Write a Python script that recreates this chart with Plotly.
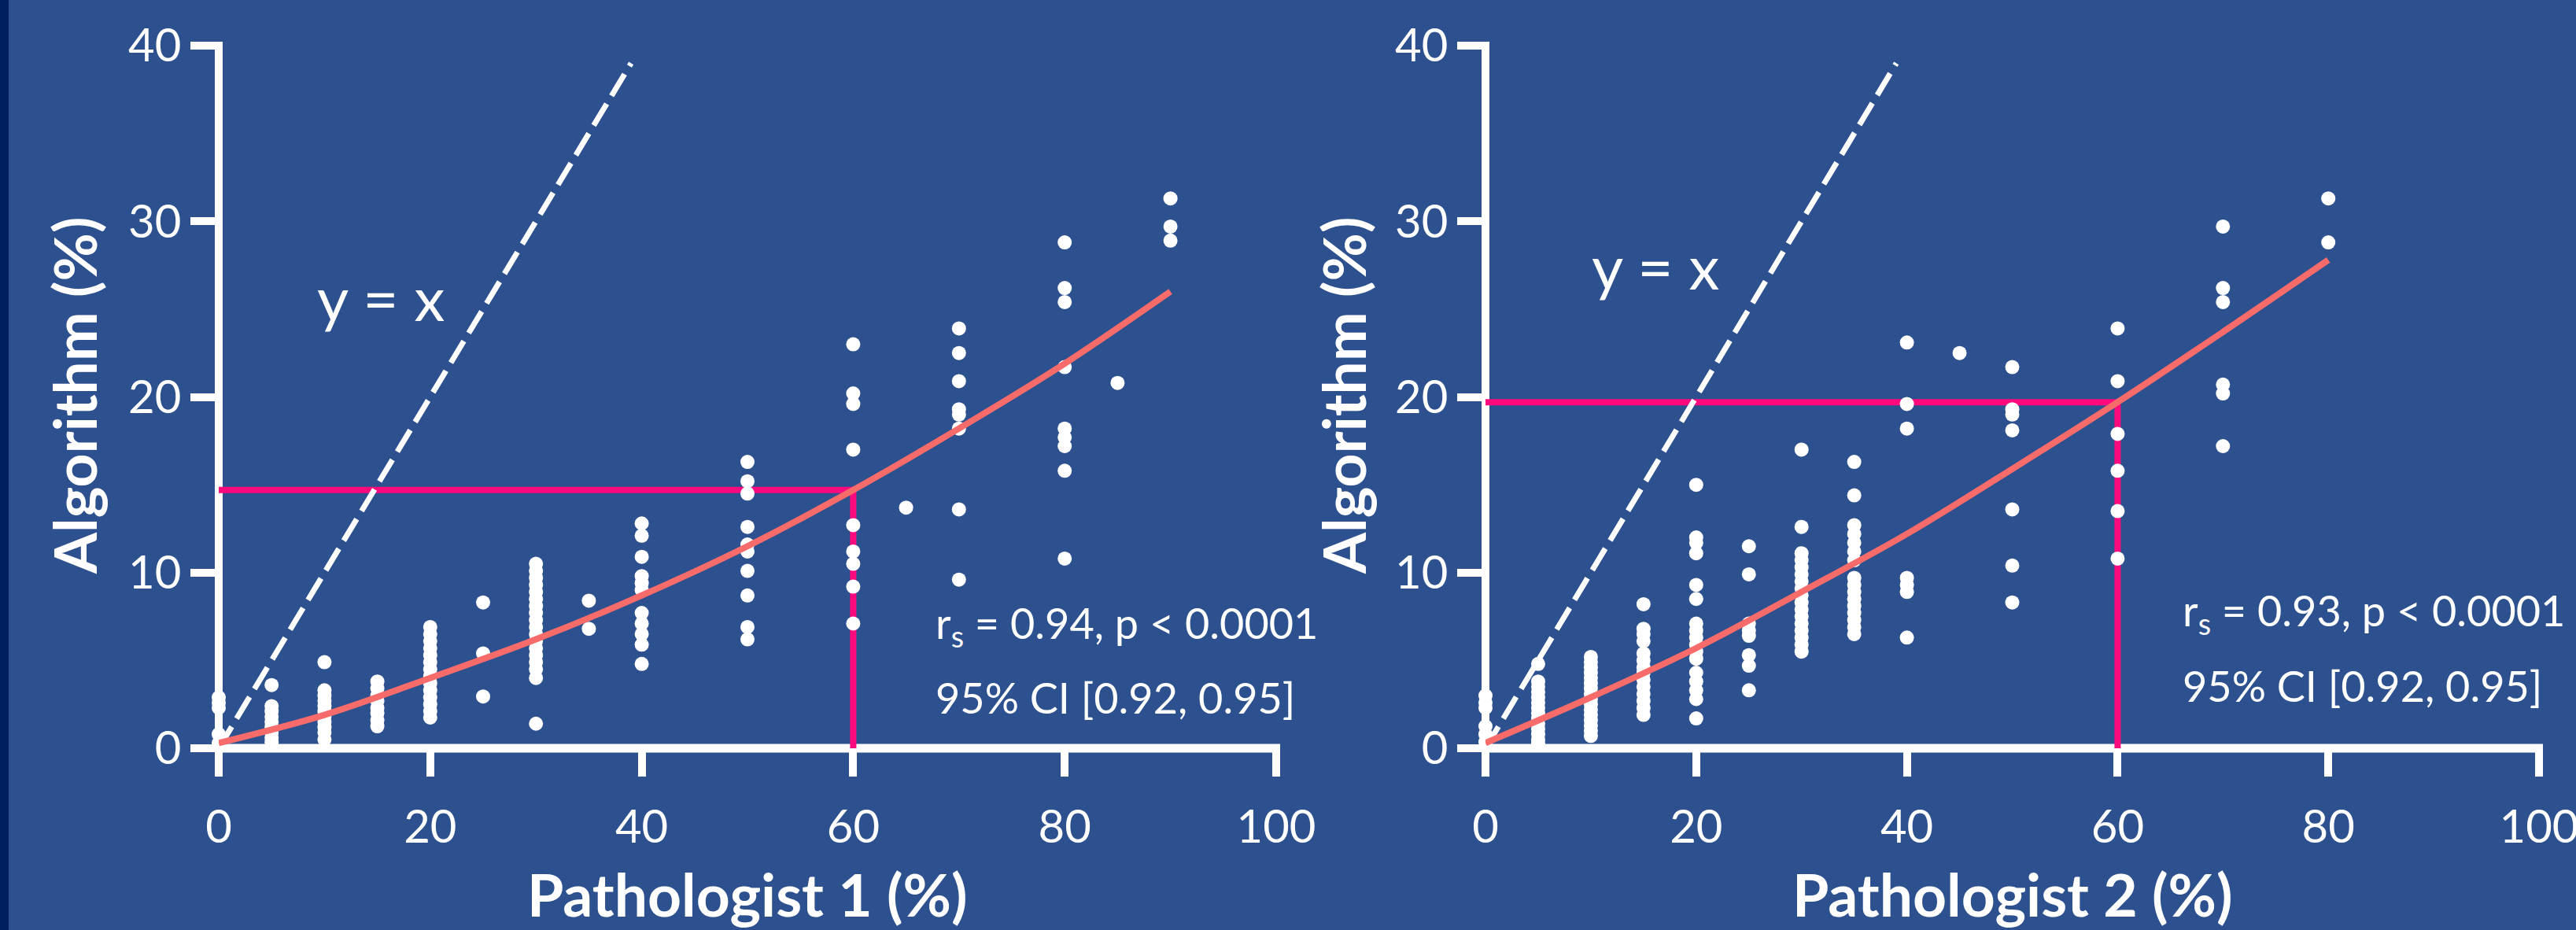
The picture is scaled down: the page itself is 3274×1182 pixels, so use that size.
import plotly.graph_objects as go

# ---------------- data ----------------
p1_cols = [0, 5, 10, 15, 20, 25, 30, 35, 40, 50, 60, 65, 70, 80, 85, 90]
p1_vals = [
    [2.9, 2.6, 2.3, 0.8, 0.3],
    [3.6, 2.4, 2.1, 1.8, 1.5, 1.2, 0.9, 0.6, 0.35],
    [4.9, 3.3, 3.0, 2.7, 2.4, 2.1, 1.8, 1.5, 1.2, 0.9, 0.5],
    [3.8, 3.4, 3.0, 2.7, 2.3, 2.0, 1.6, 1.25],
    [6.9, 6.5, 6.1, 5.7, 5.3, 4.9, 4.5, 4.1, 3.7, 3.3, 2.9, 2.5, 2.1, 1.75],
    [8.3, 5.4, 2.95],
    [10.5, 10.1, 9.7, 9.3, 8.9, 8.5, 8.1, 7.7, 7.3, 6.9, 6.5, 6.1, 5.7, 5.3, 4.9, 4.5, 4.0, 1.4],
    [8.4, 6.8],
    [12.8, 12.1, 10.9, 9.8, 9.4, 9.0, 7.7, 7.1, 6.5, 5.9, 4.8],
    [16.3, 15.2, 14.5, 12.6, 11.6, 11.2, 10.1, 8.7, 6.9, 6.2],
    [23.0, 20.2, 19.6, 17.0, 12.7, 11.2, 10.5, 9.2, 7.1],
    [13.7],
    [23.9, 22.5, 20.9, 19.3, 19.0, 18.2, 13.6, 9.6],
    [28.8, 26.2, 25.4, 21.7, 18.2, 17.7, 17.2, 15.8, 10.8],
    [20.8],
    [31.3, 29.7, 28.9],
]
p2_cols = [0, 5, 10, 15, 20, 25, 30, 35, 40, 45, 50, 60, 70, 80]
p2_vals = [
    [3.0, 2.6, 2.3, 1.25, 0.8, 0.35],
    [4.8, 3.8, 3.5, 3.2, 2.9, 2.6, 2.3, 2.0, 1.7, 1.4, 1.1, 0.8, 0.5, 0.3],
    [5.2, 4.9, 4.6, 4.3, 4.0, 3.7, 3.4, 3.1, 2.8, 2.5, 2.2, 1.9, 1.6, 1.3, 1.0, 0.7],
    [8.2, 6.8, 6.5, 6.1, 5.4, 5.0, 4.6, 4.3, 3.9, 3.5, 3.1, 2.7, 2.3, 1.9],
    [15.0, 12.0, 11.7, 11.1, 9.3, 8.5, 7.1, 6.7, 6.3, 5.9, 5.5, 5.1, 4.3, 3.8, 3.3, 2.8, 1.7],
    [11.5, 9.9, 7.1, 6.7, 6.4, 5.3, 4.7, 3.3],
    [17.0, 12.6, 11.1, 10.7, 10.3, 9.9, 9.5, 9.1, 8.7, 8.3, 7.9, 7.5, 7.1, 6.7, 6.3, 5.9, 5.5],
    [16.3, 14.4, 12.7, 12.2, 11.7, 11.2, 10.7, 9.7, 9.3, 8.9, 8.5, 8.1, 7.7, 7.3, 6.9, 6.5],
    [23.1, 19.6, 18.2, 9.7, 9.3, 8.9, 6.3],
    [22.5],
    [21.7, 19.3, 19.0, 18.1, 13.6, 10.4, 8.3],
    [23.9, 20.9, 17.9, 15.8, 13.5, 10.8],
    [29.7, 26.2, 25.4, 20.7, 20.2, 17.2],
    [31.3, 28.8],
]

fit1_x = [0, 10, 20, 30, 40, 50, 60, 70, 80, 90]
fit1_y = [0.3, 1.9, 4.0, 6.2, 8.7, 11.5, 14.7, 18.2, 21.9, 26.0]
fit2_x = [0, 10, 20, 30, 40, 50, 60, 70, 80]
fit2_y = [0.3, 2.9, 5.7, 8.9, 12.2, 15.9, 19.7, 23.7, 27.8]

identity_x = [0, 39]
identity_y = [0, 39]

ref1_x, ref1_y = 60, 14.7
ref2_x, ref2_y = 60, 19.7

x_ticks = [0, 20, 40, 60, 80, 100]
y_ticks = [0, 10, 20, 30, 40]

stats1 = ["r<sub>s</sub> = 0.94, p &lt; 0.0001", "95% CI [0.92, 0.95]"]
stats2 = ["r<sub>s</sub> = 0.93, p &lt; 0.0001", "95% CI [0.92, 0.95]"]
x_titles = ["Pathologist 1 (%)", "Pathologist 2 (%)"]
y_title = "Algorithm (%)"

# ---------------- style ----------------
W, H = 3274, 1182
BG = "#2d508f"
WHITE = "#ffffff"
PINK = "#ff0a7e"
SALMON = "#f86b6b"
FONT = "Lato"


def flatten(cols, vals):
    xs, ys = [], []
    for c, v in zip(cols, vals):
        xs += [c] * len(v)
        ys += v
    return xs, ys


fig = go.Figure()

panels = [
    dict(xa="x", ya="y", cols=p1_cols, vals=p1_vals, fx=fit1_x, fy=fit1_y, rx=ref1_x, ry=ref1_y),
    dict(xa="x2", ya="y2", cols=p2_cols, vals=p2_vals, fx=fit2_x, fy=fit2_y, rx=ref2_x, ry=ref2_y),
]

for p in panels:
    fig.add_trace(go.Scatter(x=[0, p["rx"], p["rx"]], y=[p["ry"], p["ry"], 0], mode="lines",
                             line=dict(color=PINK, width=8), xaxis=p["xa"], yaxis=p["ya"],
                             showlegend=False, hoverinfo="skip"))
    fig.add_trace(go.Scatter(x=identity_x, y=identity_y, mode="lines",
                             line=dict(color=WHITE, width=7, dash="32px,12px"),
                             xaxis=p["xa"], yaxis=p["ya"], showlegend=False, hoverinfo="skip"))
    xs, ys = flatten(p["cols"], p["vals"])
    fig.add_trace(go.Scatter(x=xs, y=ys, mode="markers",
                             marker=dict(color=WHITE, size=18, line=dict(width=0)),
                             xaxis=p["xa"], yaxis=p["ya"], showlegend=False, cliponaxis=False))
    fig.add_trace(go.Scatter(x=p["fx"], y=p["fy"], mode="lines", line=dict(color=SALMON, width=8, shape="spline"),
                             xaxis=p["xa"], yaxis=p["ya"], showlegend=False, cliponaxis=False))

ydom = [1 - 951 / H, 1 - 58 / H]
xdoms = [[278 / W, 1622 / W], [1888 / W, 3227 / W]]

common_x = dict(range=[0, 100], tickvals=x_ticks, ticks="outside", ticklen=35, tickwidth=10,
                tickcolor=WHITE, showgrid=False, zeroline=False, showline=False, automargin=False,
                tickfont=dict(family=FONT, size=58, color=WHITE), ticklabelstandoff=14,
                ticklabeloverflow="allow", fixedrange=True)
common_y = dict(range=[0, 40], tickvals=y_ticks, ticks="outside", ticklen=35, tickwidth=10,
                tickcolor=WHITE, showgrid=False, zeroline=False, showline=False, automargin=False,
                domain=ydom, tickfont=dict(family=FONT, size=58, color=WHITE), ticklabelstandoff=0,
                ticklabeloverflow="allow", fixedrange=True)

fig.update_layout(
    width=W, height=H, autosize=False,
    margin=dict(l=0, r=0, t=0, b=0, pad=0, autoexpand=False),
    paper_bgcolor=BG, plot_bgcolor=BG,
    xaxis=dict(common_x, domain=xdoms[0], anchor="y"),
    yaxis=dict(common_y, anchor="x"),
    xaxis2=dict(common_x, domain=xdoms[1], anchor="y2"),
    yaxis2=dict(common_y, anchor="x2"),
    showlegend=False,
)

# axis spines drawn in paper coordinates so they are not clipped to the plot area
shapes = [dict(type="rect", xref="paper", yref="paper", x0=0, x1=11 / W, y0=0, y1=1,
               fillcolor="#001f5f", line=dict(width=0), layer="below")]
for xd in xdoms:
    shapes.append(dict(type="line", xref="paper", yref="paper", x0=xd[0] - 5 / W, x1=xd[1] + 5 / W,
                       y0=ydom[0], y1=ydom[0], line=dict(color=WHITE, width=11), layer="below"))
    shapes.append(dict(type="line", xref="paper", yref="paper", x0=xd[0], x1=xd[0],
                       y0=ydom[0], y1=ydom[1] + 5 / H, line=dict(color=WHITE, width=10), layer="below"))
fig.update_layout(shapes=shapes)

ann = []
for i, xd in enumerate(xdoms):
    ann.append(dict(text=x_titles[i], xref="paper", yref="paper", x=(xd[0] + xd[1]) / 2, y=1 - 1136 / H,
                    xanchor="center", yanchor="middle", showarrow=False,
                    font=dict(family=FONT, size=75, color=WHITE, weight="bold")))
for xc in [94, 1707]:
    ann.append(dict(text=y_title, xref="paper", yref="paper", x=xc / W, y=1 - 503 / H, textangle=-90,
                    xanchor="center", yanchor="middle", showarrow=False,
                    font=dict(family=FONT, size=75, color=WHITE, weight="bold")))
for xc, yc in [(484, 378), (2104, 338)]:
    ann.append(dict(text="y = x", xref="paper", yref="paper", x=xc / W, y=1 - yc / H,
                    xanchor="center", yanchor="middle", showarrow=False,
                    font=dict(family=FONT, size=78, color=WHITE)))
for lines, x0, ys in [(stats1, 1187, (795, 886)), (stats2, 2772, (779, 871))]:
    for t, yc in zip(lines, ys):
        ann.append(dict(text=t, xref="paper", yref="paper", x=x0 / W, y=1 - yc / H,
                        xanchor="left", yanchor="middle", showarrow=False,
                        font=dict(family=FONT, size=54, color=WHITE)))
fig.update_layout(annotations=ann)

fig.write_html("out.html", config={"displayModeBar": False},
               post_script="document.body.style.margin='0';document.body.style.overflow='hidden';")
